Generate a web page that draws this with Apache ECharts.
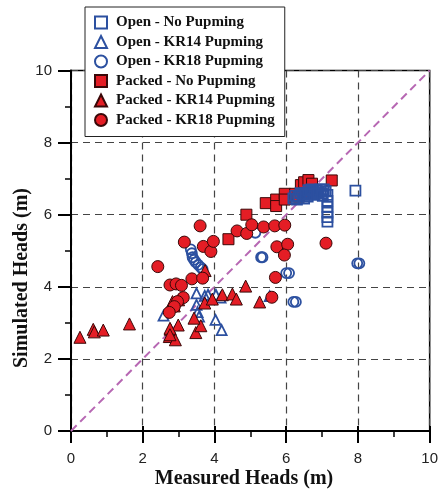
<!DOCTYPE html>
<html>
<head>
<meta charset="utf-8">
<script src="https://cdn.jsdelivr.net/npm/echarts@6/dist/echarts.min.js"></script>
<style>html,body{margin:0;padding:0;background:#fff}#c{width:441px;height:490px}</style>
</head>
<body>
<div id="c"></div>
<script>
const xTicks = [0, 2, 4, 6, 8, 10];
const yTicks = [0, 2, 4, 6, 8, 10];
const seriesNames = ['Open - No Pupming', 'Open - KR14 Pupming', 'Open - KR18 Pupming',
  'Packed - No Pupming', 'Packed - KR14 Pupming', 'Packed - KR18 Pupming'];
const lineOneToOne = [[0, 0], [10, 10]];

const openNo = [[7.93,6.67],[7.15,6.55],[7.15,6.38],[7.15,6.22],[7.15,6.06],[7.15,5.93],[7.15,5.81],
  [6.2,6.45],[6.35,6.5],[6.45,6.55],[6.55,6.6],[6.65,6.62],[6.75,6.65],[6.85,6.68],[6.95,6.7],
  [7.05,6.7],[6.6,6.5],[6.8,6.55],[7.0,6.6],[6.9,6.62],[6.5,6.45],[7.1,6.65],[6.7,6.7],[6.3,6.42],
  [6.4,6.6],[6.62,6.68],[6.85,6.6],[7.02,6.52],[6.25,6.52],[6.58,6.55]];
const openKR14 = [[2.58,3.2],[3.5,3.82],[3.5,3.5],[3.53,3.3],[3.57,3.17],[3.73,3.75],[3.82,3.78],
  [4.04,3.78],[4.17,3.7],[4.03,3.08],[4.2,2.8],[5.54,3.74]];
const openKR18 = [[3.34,5.04],[3.37,4.93],[3.39,4.82],[3.43,4.75],[3.48,4.68],[3.55,4.61],[3.62,4.54],
  [3.67,4.49],[5.14,5.5],[5.3,4.82],[5.34,4.82],[6.0,4.38],[6.08,4.38],[6.2,3.58],[6.27,3.58],
  [7.98,4.65],[8.04,4.65]];
const packedNo = [[4.39,5.32],[4.89,6.0],[5.43,6.32],[5.72,6.42],[5.72,6.24],[5.96,6.58],[5.96,6.42],
  [6.25,6.58],[6.41,6.82],[6.5,6.9],[6.62,6.96],[6.72,6.86],[6.57,6.58],[6.8,6.6],[7.27,6.95],[6.35,6.5]];
const packedKR14 = [[0.25,2.6],[0.62,2.82],[0.65,2.75],[0.9,2.8],[1.63,2.97],[2.74,2.62],[2.77,2.82],
  [2.91,2.53],[2.99,2.94],[3.48,2.73],[3.62,2.92],[3.43,3.13],[2.83,3.59],[3.0,3.64],[2.88,3.47],
  [3.73,3.55],[3.74,4.45],[3.94,3.66],[4.22,3.78],[4.5,3.8],[4.61,3.66],[4.87,4.02],[5.26,3.58],
  [2.76,2.85],[2.76,2.67]];
const packedKR18 = [[2.42,4.56],[2.76,4.05],[2.93,4.08],[3.08,4.04],[3.37,4.22],[3.67,4.24],[3.16,5.24],
  [3.6,5.69],[3.69,5.12],[3.9,4.98],[3.97,5.26],[3.13,3.7],[2.97,3.59],[2.88,3.45],[2.74,3.29],
  [4.63,5.55],[4.9,5.48],[5.04,5.72],[5.37,5.66],[5.68,5.69],[5.96,5.71],[5.74,5.11],[6.04,5.18],
  [5.95,4.88],[5.7,4.26],[7.11,5.21],[5.6,3.71]];

const RED = '#e41d25', REDB = '#3a0808', BLUE = '#2c50a0';
const openStyle = {color: 'rgba(255,255,255,0)', borderColor: BLUE, borderWidth: 1.8, opacity: 1};
const packedStyle = {color: RED, borderColor: REDB, borderWidth: 1, opacity: 1};

const chart = echarts.init(document.getElementById('c'), null, {renderer: 'canvas'});
const axisLabelFont = {fontFamily: 'Liberation Sans', fontSize: 15, color: '#222'};
chart.setOption({
  animation: false,
  backgroundColor: '#fff',
  grid: {left: 71, right: 9, top: 70.5, bottom: 59, show: true, borderColor: '#000', borderWidth: 1.5, backgroundColor: 'transparent'},
  xAxis: [{
    type: 'value', min: xTicks[0], max: xTicks[xTicks.length - 1], interval: 2,
    axisLine: {show: true, onZero: false, lineStyle: {color: '#000', width: 2}},
    axisTick: {show: true, length: 12, lineStyle: {color: '#000', width: 2}},
    minorTick: {show: true, splitNumber: 2, length: 6, lineStyle: {color: '#000', width: 1.5}},
    axisLabel: Object.assign({margin: 20, formatter: v => xTicks.includes(v) ? String(v) : ''}, axisLabelFont),
    splitLine: {show: true, lineStyle: {color: '#444', type: [7, 5], width: 1.2}}
  }, {
    type: 'value', position: 'bottom', min: 0, max: 10, interval: 2,
    axisLine: {show: false}, axisLabel: {show: false}, splitLine: {show: false},
    axisTick: {show: true, inside: true, length: 5, lineStyle: {color: '#000', width: 2}}
  }],
  yAxis: {
    type: 'value', min: yTicks[0], max: yTicks[yTicks.length - 1], interval: 2,
    axisLine: {show: true, onZero: false, lineStyle: {color: '#000', width: 2}},
    axisTick: {show: true, length: 13, lineStyle: {color: '#000', width: 2}},
    minorTick: {show: true, splitNumber: 2, length: 6, lineStyle: {color: '#000', width: 1.5}},
    axisLabel: Object.assign({margin: 19, formatter: v => yTicks.includes(v) ? String(v) : ''}, axisLabelFont),
    splitLine: {show: true, lineStyle: {color: '#444', type: [7, 5], width: 1.2}}
  },
  legend: {
    orient: 'vertical', left: 85, top: 7, width: 196,
    data: seriesNames,
    backgroundColor: '#fff', borderColor: '#222', borderWidth: 1,
    padding: [8, 10, 9, 9], itemGap: 4.5, itemWidth: 12, itemHeight: 12, z: 20,
    textStyle: {fontFamily: 'Liberation Serif', fontWeight: 'bold', fontSize: 15, color: '#111', padding: [0, 0, 0, 4]}
  },
  graphic: [
    {type: 'text', style: {text: 'Measured Heads (m)', font: 'bold 20px "Liberation Serif"', fill: '#111', x: 244, y: 479, textAlign: 'center', textVerticalAlign: 'middle'}},
    {type: 'text', rotation: Math.PI / 2, x: 22, y: 278, style: {text: 'Simulated Heads (m)', font: 'bold 20px "Liberation Serif"', fill: '#111', x: 0, y: 0, textAlign: 'center', textVerticalAlign: 'middle'}}
  ],
  series: [
    {name: '1:1', type: 'line', data: lineOneToOne, symbol: 'none', z: 1, silent: true,
      lineStyle: {color: '#b768b3', width: 2, type: [8, 5]}},
    {name: seriesNames[4], type: 'scatter', data: packedKR14, symbol: 'triangle', symbolSize: 12, itemStyle: packedStyle, z: 4},
    {name: seriesNames[5], type: 'scatter', data: packedKR18, symbol: 'circle', symbolSize: 12, itemStyle: packedStyle, z: 5},
    {name: seriesNames[3], type: 'scatter', data: packedNo, symbol: 'rect', symbolSize: 11, itemStyle: packedStyle, z: 3},
    {name: seriesNames[0], type: 'scatter', data: openNo, symbol: 'rect', symbolSize: 10, itemStyle: openStyle, z: 4},
    {name: seriesNames[1], type: 'scatter', data: openKR14, symbol: 'triangle', symbolSize: 10, itemStyle: openStyle, z: 3},
    {name: seriesNames[2], type: 'scatter', data: openKR18, symbol: 'circle', symbolSize: 10, itemStyle: openStyle, z: 3}
  ]
});
</script>
</body>
</html>
